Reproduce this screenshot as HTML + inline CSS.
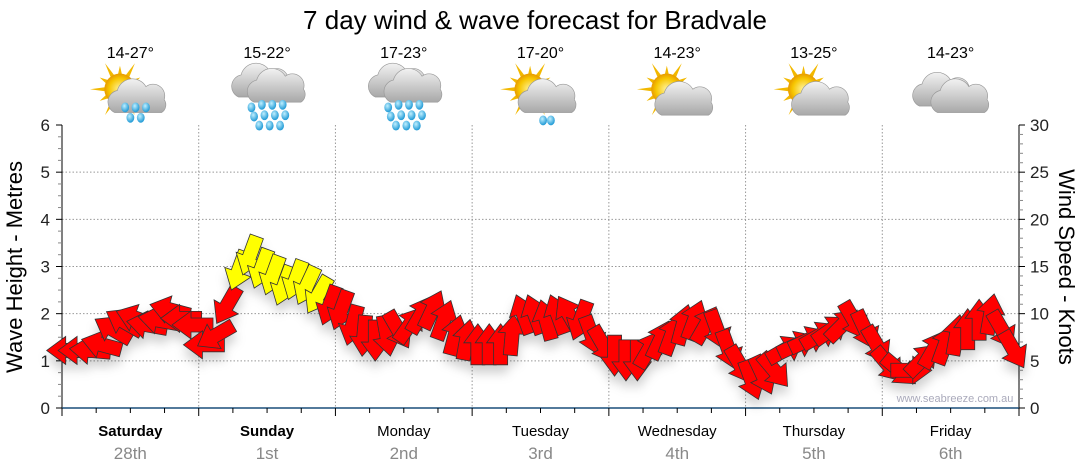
<!DOCTYPE html>
<html><head><meta charset="utf-8"><style>
html,body{margin:0;padding:0;background:#fff;}
svg{display:block;font-family:"Liberation Sans",sans-serif;}
</style></head><body>
<svg id="chart" width="1080" height="475" viewBox="0 0 1080 475">
<defs>
<filter id="sh" x="-50%" y="-50%" width="200%" height="250%"><feDropShadow dx="0" dy="8" stdDeviation="5" flood-color="#000" flood-opacity="0.18"/></filter>
<radialGradient id="sunG" cx="0.5" cy="0.5" r="0.5"><stop offset="0" stop-color="#fff4a0"/><stop offset="0.7" stop-color="#f7c600"/><stop offset="1" stop-color="#e79a00"/></radialGradient>
<linearGradient id="cloudG" x1="0" y1="0" x2="0" y2="1"><stop offset="0" stop-color="#f2f2f2"/><stop offset="1" stop-color="#a8a8a8"/></linearGradient>
<radialGradient id="dropG" cx="0.4" cy="0.35" r="0.6"><stop offset="0" stop-color="#bfefff"/><stop offset="1" stop-color="#2a9fd8"/></radialGradient>
</defs>
<text x="535" y="29" text-anchor="middle" font-size="26" fill="#000">7 day wind &amp; wave forecast for Bradvale</text>
<g id="grid"></g>
<g id="axes"></g>
<g id="icons"></g>
<g id="arrows" filter="url(#sh)"></g>
<text x="955" y="402" text-anchor="middle" font-size="11" fill="#aab">www.seabreeze.com.au</text>
<text transform="translate(22,267) rotate(-90)" text-anchor="middle" font-size="22" fill="#000">Wave Height - Metres</text>
<text transform="translate(1059,267) rotate(90)" text-anchor="middle" font-size="22" fill="#000">Wind Speed - Knots</text>
</svg>
<script>
const days = ["Saturday","Sunday","Monday","Tuesday","Wednesday","Thursday","Friday"];
const dates = ["28th","1st","2nd","3rd","4th","5th","6th"];
const temps = ["14-27°","15-22°","17-23°","17-20°","14-23°","13-25°","14-23°"];
const icons = ["sun-rain","rain","rain","sun-shower","sun-cloud","sun-cloud","cloud"];
const leftTicks = [0,1,2,3,4,5,6];
const rightTicks = [0,5,10,15,20,25,30];
const windSpeed = [
6.1,6.1,6.1,6.7,8.3,9.1,9.5,8.8,9.3,10.4,9.5,8.8,
6.7,7.7,10.9,14.6,16.2,14.8,14.1,13,13.6,13,12,10.9,
10.4,8.8,7.7,7.2,7.7,8.3,8.8,9.9,10.4,9.3,7.7,7.2,
6.7,6.7,6.7,7.7,9.9,9.9,9.3,9.9,9.9,9.3,7.7,6.7,
5.6,5.1,5.1,6.2,7.2,7.7,8.8,9.3,8.8,8.3,6.2,4.6,
3,3.5,4,6.2,6.7,7.2,7.7,8.3,8.8,9.3,8.3,6.7,
4.6,4,4,5.1,6.2,6.7,7.7,8.3,9.3,9.9,8.3,6.2];
const windDir = [
270,270,275,285,300,300,290,280,280,285,270,270,
270,240,210,200,200,200,200,200,200,205,210,200,
200,195,185,180,170,150,35,30,25,20,15,10,
0,0,0,5,340,340,345,340,330,200,160,150,
180,180,180,30,25,20,15,20,30,160,160,150,
160,155,140,60,65,65,60,55,45,150,155,150,
140,130,90,45,30,20,10,0,0,10,150,150];

const NS="http://www.w3.org/2000/svg";
const X0=62, X1=1019, Y0=408, Y6=125;
const dayW=(X1-X0)/7;
const xHour=h=>X0+h*dayW/24;
const yM=m=>Y0-(Y0-Y6)*m/6;
const yK=k=>Y0-(Y0-Y6)*k/30;
function el(tag,attrs,parent,txt){const e=document.createElementNS(NS,tag);for(const k in attrs)e.setAttribute(k,attrs[k]);if(txt!==undefined)e.textContent=txt;parent.appendChild(e);return e;}
const grid=document.getElementById('grid'),axes=document.getElementById('axes'),icg=document.getElementById('icons'),arr=document.getElementById('arrows');
leftTicks.forEach(v=>{if(v>0&&v<6){const l=el('line',{x1:X0,x2:X1,y1:yM(v),y2:yM(v),stroke:'#999','stroke-dasharray':'1.5,2','stroke-width':1},grid);

}});
for(let d=1;d<7;d++){const x=X0+d*dayW;const l=el('line',{x1:x,x2:x,y1:Y6,y2:Y0,stroke:'#999','stroke-dasharray':'1.5,2'},grid);

}
let a=el('line',{x1:X0,x2:X0,y1:Y6,y2:Y0+5,stroke:'#000'},axes);


a=el('line',{x1:X1,x2:X1,y1:Y6,y2:Y0,stroke:'#000'},axes);


a=el('line',{x1:X0,x2:X1,y1:Y0,y2:Y0,stroke:'#1a4f7a','stroke-width':1.5},axes);


for(let i=0;i<=24;i++){const y=yM(i/4);el('line',{x1:X0-(i%4?4:6),x2:X0,y1:y,y2:y,stroke:i%4?'#888':'#000'},axes);}
for(let i=0;i<=30;i++){const y=yK(i);el('line',{x1:X1,x2:X1+(i%5?4:6),y1:y,y2:y,stroke:i%5?'#888':'#000'},axes);}
leftTicks.forEach(v=>{const t=el('text',{x:50,y:yM(v)+6,'text-anchor':'end','font-size':17,fill:'#222'},axes,String(v));

});
rightTicks.forEach(v=>{const t=el('text',{x:1030,y:yK(v)+6,'font-size':17,fill:'#222'},axes,String(v));

});
for(let h=0;h<=168;h+=6){const x=xHour(h);el('line',{x1:x,x2:x,y1:Y0,y2:Y0+(h%24?5:8),stroke:'#000'},axes);}
days.forEach((d,i)=>{const cx=X0+(i+0.5)*dayW;
const t=el('text',{x:cx,y:436,'text-anchor':'middle','font-size':15,fill:'#000','font-weight':i<2?'bold':'normal'},axes,d);


const t2=el('text',{x:cx,y:459,'text-anchor':'middle','font-size':17,fill:'#888'},axes,dates[i]);


const t3=el('text',{x:cx,y:58,'text-anchor':'middle','font-size':16,fill:'#000'},axes,temps[i]);


drawIcon(icons[i],cx,97);});
function sun(g,x,y){for(let k=0;k<12;k++){const an=k*30*Math.PI/180;el('polygon',{points:`${x+Math.cos(an-0.15)*11},${y+Math.sin(an-0.15)*11} ${x+Math.cos(an)*(k%2?18:23)},${y+Math.sin(an)*(k%2?18:23)} ${x+Math.cos(an+0.15)*11},${y+Math.sin(an+0.15)*11}`,fill:'#f2b800'},g);}
el('circle',{cx:x,cy:y,r:12,fill:'url(#sunG)'},g);}
function cloud(g,x,y,s){el('path',{d:`M${x-18*s},${y+10*s} a9 9 0 0 1 2,-17 a12 12 0 0 1 22,-3 a9 9 0 0 1 14,10 a7 7 0 0 1 -2,10 z`,fill:'url(#cloudG)',stroke:'#999','stroke-width':0.5},g);}
function drops(g,pts){pts.forEach(p=>el('ellipse',{cx:p[0],cy:p[1],rx:3,ry:3.8,fill:'url(#dropG)'},g));}
function drawIcon(type,cx,cy){const g=el('g',{transform:`translate(${cx},${cy}) scale(1.3) translate(${-cx},${-cy})`},icg);


if(type==='sun-rain'){sun(g,cx-8,cy-6);cloud(g,cx+6,cy+2,1);drops(g,[[cx-4,cy+8],[cx+4,cy+8],[cx+12,cy+8],[cx,cy+16],[cx+8,cy+16]]);}
else if(type==='rain'){cloud(g,cx-4,cy-10,1);cloud(g,cx+8,cy-6,1);drops(g,[[cx-12,cy+8],[cx-4,cy+6],[cx+4,cy+6],[cx+12,cy+6],[cx-10,cy+15],[cx-2,cy+14],[cx+6,cy+14],[cx+14,cy+14],[cx-6,cy+22],[cx+2,cy+22],[cx+10,cy+22]]);}
else if(type==='sun-shower'){sun(g,cx-8,cy-6);cloud(g,cx+6,cy+2,1);drops(g,[[cx+2,cy+18],[cx+8,cy+18]]);}
else if(type==='sun-cloud'){sun(g,cx-8,cy-6);cloud(g,cx+6,cy+4,1);}
else {cloud(g,cx-6,cy-3,1);cloud(g,cx+8,cy+2,1);}}
windSpeed.forEach((v,i)=>{const x=xHour(i*2+1),y=yK(v);
const p=el('path',{d:'M0,-21 L14,-2 L7,-2 L7,20 L-7,20 L-7,-2 L-14,-2 Z',fill:v>=12?'#ffff00':'#ff0000',stroke:'#333','stroke-width':0.8,'stroke-linejoin':'miter',transform:`translate(${x},${y}) rotate(${windDir[i]})`},arr);

});
</script>
</body></html>
